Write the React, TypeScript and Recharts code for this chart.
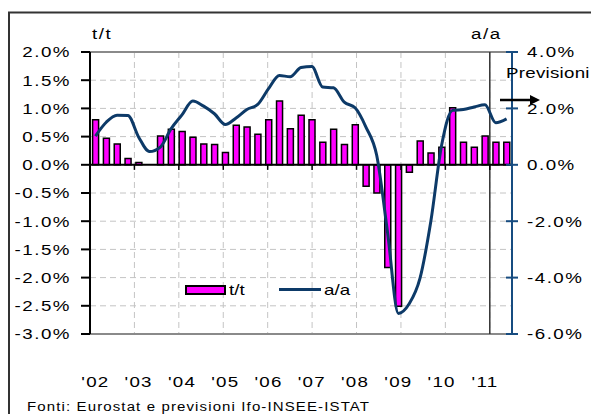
import {
  ComposedChart, Bar, Line, XAxis, YAxis, CartesianGrid, ReferenceLine, Legend,
} from 'recharts';

// quarters 2002 T1 .. 2011 T3 (2011 = previsioni)
const quarters = [
  'T1 02', 'T2 02', 'T3 02', 'T4 02',
  'T1 03', 'T2 03', 'T3 03', 'T4 03',
  'T1 04', 'T2 04', 'T3 04', 'T4 04',
  'T1 05', 'T2 05', 'T3 05', 'T4 05',
  'T1 06', 'T2 06', 'T3 06', 'T4 06',
  'T1 07', 'T2 07', 'T3 07', 'T4 07',
  'T1 08', 'T2 08', 'T3 08', 'T4 08',
  'T1 09', 'T2 09', 'T3 09', 'T4 09',
  'T1 10', 'T2 10', 'T3 10', 'T4 10',
  'T1 11', 'T2 11', 'T3 11',
];

// variazione congiunturale (t/t), %
const ttValues = [
  0.80, 0.47, 0.37, 0.11,
  0.04, 0.00, 0.51, 0.63,
  0.59, 0.49, 0.37, 0.36,
  0.22, 0.70, 0.67, 0.54,
  0.80, 1.13, 0.64, 0.88,
  0.80, 0.40, 0.63, 0.36,
  0.71, -0.38, -0.50, -1.82,
  -2.51, -0.13, 0.42, 0.21,
  0.31, 1.01, 0.40, 0.31,
  0.51, 0.40, 0.40,
];

// variazione tendenziale (a/a), %
const aaValues = [
  1.02, 1.51, 1.76, 1.75,
  0.98, 0.47, 0.63, 1.28,
  1.77, 2.26, 2.08, 1.81,
  1.43, 1.66, 1.96, 2.14,
  2.70, 3.17, 3.12, 3.45,
  3.49, 2.76, 2.73, 2.22,
  2.02, 1.34, 0.33, -2.40,
  -5.27, -4.93, -4.02, -2.00,
  0.70, 1.93, 1.96, 2.05,
  2.13, 1.49, 1.63,
];

const yearLabels = ["'02", "'03", "'04", "'05", "'06", "'07", "'08", "'09", "'10", "'11"];
const leftTicks = [-3, -2.5, -2, -1.5, -1, -0.5, 0, 0.5, 1, 1.5, 2];
const rightTicks = [-6, -4, -2, 0, 2, 4];
const yearBounds = [4, 8, 12, 16, 20, 24, 28, 32, 36];
const forecastStart = 36;

const data = quarters.map((q, i) => ({ q, 't/t': ttValues[i], 'a/a': aaValues[i] }));

const FONT = '"Liberation Sans", Arial, sans-serif';
const SX = 1.25;
const NAVY = '#0d3a68';
const AXIS_BLUE = '#174c80';
const MAGENTA = '#ff00ff';

const pct = (v: number) => `${v.toFixed(1)}%`;

// eslint-disable-next-line @typescript-eslint/no-explicit-any
function LeftTick({ x, y, payload }: any) {
  return (
    <g>
      <line x1={x - 9} x2={x} y1={y} y2={y} stroke="#000" strokeWidth={2} />
      <g transform={`translate(${x - 19},${y}) scale(${SX},1)`}>
        <text textAnchor="end" dy="0.36em" fontSize={15} fontFamily={FONT} letterSpacing={1.2} fill="#000">
          {pct(payload.value)}
        </text>
      </g>
    </g>
  );
}

// eslint-disable-next-line @typescript-eslint/no-explicit-any
function RightTick({ x, y, payload }: any) {
  return (
    <g>
      <line x1={x - 6} x2={x + 6} y1={y} y2={y} stroke={AXIS_BLUE} strokeWidth={2} />
      <g transform={`translate(${x + 15},${y}) scale(${SX},1)`}>
        <text textAnchor="start" dy="0.36em" fontSize={15} fontFamily={FONT} letterSpacing={1.2} fill="#000">
          {pct(payload.value)}
        </text>
      </g>
    </g>
  );
}

// eslint-disable-next-line @typescript-eslint/no-explicit-any
function YearTick({ x, y, payload }: any) {
  const idx = quarters.indexOf(payload.value);
  if (idx < 0 || idx % 4 !== 0) return <g />;
  return (
    <g transform={`translate(${x},${y + 53}) scale(${SX},1)`}>
      <text textAnchor="middle" fontSize={15} fontFamily={FONT} letterSpacing={1} fill="#000">
        {yearLabels[idx / 4]}
      </text>
    </g>
  );
}

function LegendBox() {
  const txt = { display: 'inline-block', transform: `scaleX(${SX})`, transformOrigin: 'left center' } as const;
  return (
    <div style={{ display: 'flex', alignItems: 'center', fontFamily: FONT, fontSize: 15, color: '#000', whiteSpace: 'nowrap' }}>
      <span style={{ width: 37, height: 6, background: MAGENTA, border: '2px solid #000', display: 'inline-block' }} />
      <span style={{ ...txt, marginLeft: 3, width: 50 }}>t/t</span>
      <span style={{ width: 42, height: 3, background: NAVY, display: 'inline-block' }} />
      <span style={{ ...txt, marginLeft: 3 }}>a/a</span>
    </div>
  );
}

function Overlay() {
  const t = (x: number, y: number, s: string, size: number, ls = 1.2) => (
    <g transform={`translate(${x},${y}) scale(${SX},1)`}>
      <text fontSize={size} fontFamily={FONT} letterSpacing={ls} fill="#000">{s}</text>
    </g>
  );
  return (
    <svg width={591} height={414} style={{ position: 'absolute', left: 0, top: 0, pointerEvents: 'none' }}>
      <path d="M9 414 V12.5 H591" fill="none" stroke="#333" strokeWidth={2} />
      {t(92, 39, 't/t', 15)}
      {t(471, 39, 'a/a', 15)}
      {t(506, 78, 'Previsioni', 15, 0.2)}
      <line x1={500} x2={532} y1={100} y2={100} stroke="#000" strokeWidth={2.5} />
      <path d="M530 95 L540 100 L530 105 Z" fill="#000" />
      {t(27, 411, 'Fonti: Eurostat e previsioni Ifo-INSEE-ISTAT', 12, 0.9)}
    </svg>
  );
}

export default function App() {
  return (
    <div style={{ position: 'absolute', left: 0, top: 0, width: 591, height: 414, background: '#fff' }}>
      <ComposedChart
        width={591}
        height={414}
        data={data}
        margin={{ top: 52, right: 0, left: 0, bottom: 0 }}
        barCategoryGap="24%"
      >
        <CartesianGrid xAxisId="yr" yAxisId="l" stroke="#c4c4c4" strokeDasharray="6 4" />
        <XAxis
          dataKey="q"
          height={80}
          interval={0}
          axisLine={false}
          tickLine={false}
          tickSize={0}
          tickMargin={0}
          tick={<YearTick />}
        />
        <XAxis xAxisId="yr" type="number" domain={[0, quarters.length]} ticks={yearBounds} hide />
        <YAxis
          yAxisId="l"
          orientation="left"
          width={90}
          domain={[-3, 2]}
          ticks={leftTicks}
          interval={0}
          axisLine={{ stroke: '#000', strokeWidth: 2 }}
          tickLine={false}
          tickSize={0}
          tickMargin={0}
          tick={<LeftTick />}
        />
        <YAxis
          yAxisId="r"
          orientation="right"
          width={79}
          domain={[-6, 4]}
          ticks={rightTicks}
          interval={0}
          axisLine={{ stroke: AXIS_BLUE, strokeWidth: 2 }}
          tickLine={false}
          tickSize={0}
          tickMargin={0}
          tick={<RightTick />}
        />
        <ReferenceLine yAxisId="l" y={2} stroke="#8a8a8a" strokeWidth={2} />
        <ReferenceLine yAxisId="l" y={-3} stroke="#8a8a8a" strokeWidth={2} />
        <ReferenceLine xAxisId="yr" yAxisId="l" x={forecastStart} stroke="#333" strokeWidth={1.5} />
        <Bar
          yAxisId="l"
          dataKey="t/t"
          fill={MAGENTA}
          stroke="#000"
          strokeWidth={1.5}
          isAnimationActive={false}
        />
        <ReferenceLine yAxisId="l" y={0} stroke="#000" strokeWidth={2} />
        {yearBounds.map((b) => (
          <ReferenceLine
            key={b}
            xAxisId="yr"
            yAxisId="l"
            segment={[{ x: b, y: 0 }, { x: b, y: -0.09 }]}
            stroke="#000"
            strokeWidth={1.5}
          />
        ))}
        <Line
          yAxisId="r"
          dataKey="a/a"
          type="monotone"
          stroke={NAVY}
          strokeWidth={3}
          dot={false}
          isAnimationActive={false}
        />
        <Legend
          layout="horizontal"
          verticalAlign="middle"
          align="center"
          content={<LegendBox />}
          wrapperStyle={{ left: 185, top: 281, width: 'auto' }}
        />
      </ComposedChart>
      <Overlay />
    </div>
  );
}
